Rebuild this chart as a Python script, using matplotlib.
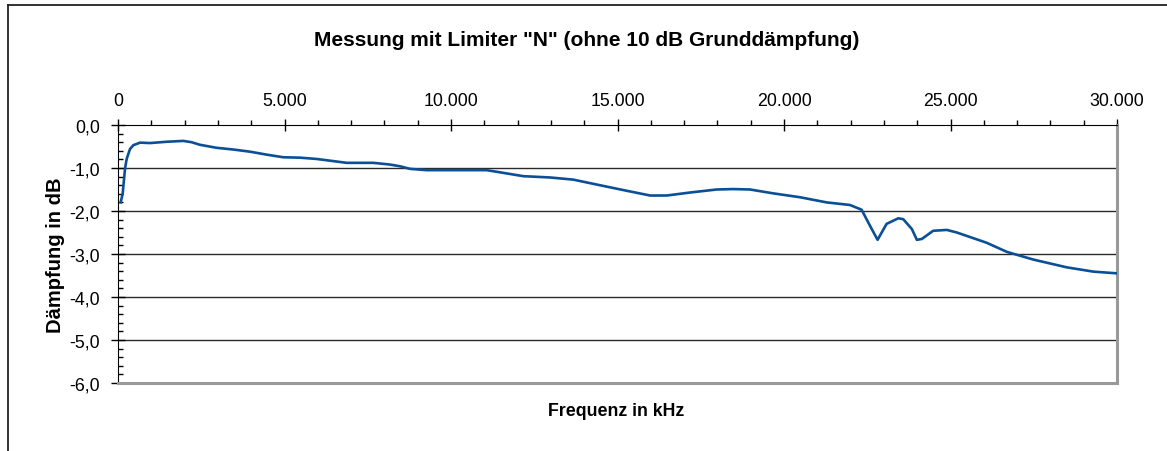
import matplotlib
matplotlib.use("Agg")
import matplotlib.pyplot as plt
from matplotlib.lines import Line2D

plt.rcParams['font.family'] = ['Liberation Sans', 'DejaVu Sans']

freq = [80, 140, 210, 260, 360, 460, 660, 960, 1460, 1960, 2210, 2460,
        2960, 3460, 3960, 4470, 4960, 5470, 5970, 6470, 6870, 7670, 8170,
        8470, 8770, 9270, 9970, 11070, 11470, 12170, 12970, 13670, 14470,
        15280, 15980, 16480, 17180, 17980, 18480, 18980, 19680, 20480,
        21280, 21980, 22330, 22580, 22810, 23080, 23430, 23580, 23840,
        23990, 24140, 24480, 24890, 25190, 26090, 26690, 27490, 28490,
        29290, 30000]
daempfung = [-1.80, -1.60, -1.02, -0.79, -0.56, -0.47, -0.41, -0.42, -0.39,
             -0.37, -0.40, -0.46, -0.53, -0.57, -0.62, -0.69, -0.75, -0.76,
             -0.79, -0.84, -0.88, -0.88, -0.92, -0.96, -1.02, -1.05, -1.05,
             -1.05, -1.10, -1.19, -1.22, -1.27, -1.40, -1.53, -1.64, -1.64,
             -1.57, -1.50, -1.49, -1.50, -1.59, -1.68, -1.80, -1.86, -1.97,
             -2.34, -2.67, -2.30, -2.17, -2.19, -2.42, -2.67, -2.65, -2.46,
             -2.44, -2.50, -2.74, -2.95, -3.13, -3.31, -3.41, -3.45]

x_ticks = [0, 5000, 10000, 15000, 20000, 25000, 30000]
x_labels = ['0', '5.000', '10.000', '15.000', '20.000', '25.000', '30.000']
y_ticks = [0, -1, -2, -3, -4, -5, -6]
y_labels = ['0,0', '-1,0', '-2,0', '-3,0', '-4,0', '-5,0', '-6,0']

fig = plt.figure(figsize=(11.67, 4.52), dpi=100)
ax = fig.add_axes([118/1167, 1 - 384/452, 999/1167, 258/452])

ax.plot(freq, daempfung, color='#0b4f96', linewidth=1.9, zorder=3)

ax.set_xlim(0, 30000)
ax.set_ylim(-6, 0)

ax.xaxis.tick_top()
ax.set_xticks(x_ticks)
ax.set_xticklabels(x_labels, fontsize=12.8)
ax.set_xticks(range(0, 30001, 1000), minor=True)
ax.set_yticks(y_ticks)
ax.set_yticklabels(y_labels, fontsize=12.8)
ax.set_yticks([v / 5 for v in range(-30, 1)], minor=True)

ax.tick_params(axis='x', which='major', direction='inout', length=9, width=1, pad=7)
ax.tick_params(axis='x', which='minor', direction='out', length=3.5, width=1)
ax.tick_params(axis='y', which='major', direction='inout', length=10, width=1, pad=8)
ax.tick_params(axis='y', which='minor', direction='in', length=3.5, width=1)

for y in [-1, -2, -3, -4, -5]:
    ax.axhline(y, color='#2a2a2a', linewidth=1, zorder=1)

ax.spines['top'].set_color('black')
ax.spines['left'].set_color('black')
ax.spines['right'].set_color('#999999')
ax.spines['right'].set_linewidth(2.2)
ax.spines['bottom'].set_color('#999999')
ax.spines['bottom'].set_linewidth(2.2)

ax.set_ylabel('Dämpfung in dB', fontsize=14.5, fontweight='bold', labelpad=3)
fig.text(616/1167, 1 - 412/452, 'Frequenz in kHz', fontsize=12.8, fontweight='bold',
         ha='center', va='center')
fig.text(587/1167, 1 - 40/452, 'Messung mit Limiter "N" (ohne 10 dB Grunddämpfung)',
         fontsize=15, fontweight='bold', ha='center', va='center')

# Rahmen um das Diagramm
fig.add_artist(Line2D([8/1167, 8/1167], [0, 1 - 6/452], color='#222222', linewidth=1.3))
fig.add_artist(Line2D([8/1167, 1], [1 - 6/452, 1 - 6/452], color='#222222', linewidth=1.3))

fig.savefig('out.png', dpi=100)
